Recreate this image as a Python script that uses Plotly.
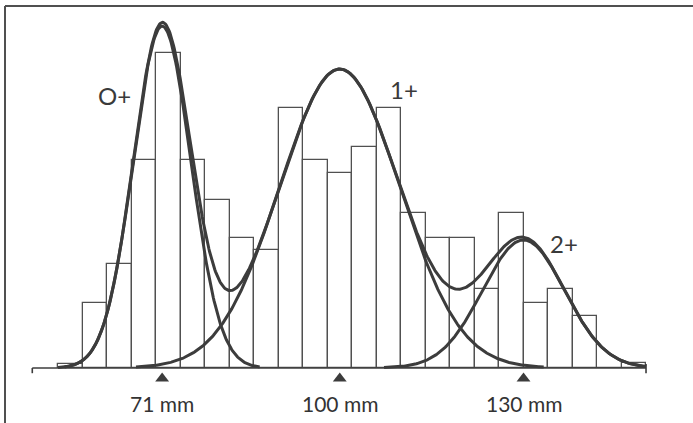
import numpy as np
import plotly.graph_objects as go

# ---- data ----
bin_left_edges = [54, 58, 62, 66, 70, 74, 78, 82, 86, 90, 94, 98,
                  102, 106, 110, 114, 118, 122, 126, 130, 134, 138, 142, 146]
bin_width = 4
counts = [0.3, 5, 8, 16, 24.2, 16, 12.9, 10, 9.1, 20, 16, 15,
          17, 20, 11.9, 10, 10, 6.1, 11.9, 5, 6.1, 4, 0, 0.4]

# fitted normal components: age class, mean length (mm), sd (mm), peak height
comp_labels = ["O+", "1+", "2+"]
comp_means = [71, 100, 130]
comp_sds = [4.7, 9.8, 6.7]
comp_peaks = [26.3, 23.0, 9.85]

# label positions (mm, count)
label_x = [63.2, 110.5, 136.6]
label_y = [21.0, 21.4, 9.6]

mode_ticks = [71, 100, 130]
mode_text = ["71 mm", "100 mm", "130 mm"]

# ---- styling ----
INK = "#3c3c3c"
FONT = "Lato"

x_lo, x_hi = 44.53, 157.67
y_lo, y_hi = -4.23, 28.31

fig = go.Figure()

centers = [e + bin_width / 2 for e in bin_left_edges]
fig.add_trace(go.Bar(
    x=centers, y=counts, width=bin_width,
    marker=dict(color="white", line=dict(color="#505050", width=1.3)),
    hoverinfo="skip",
))

xs_all = np.linspace(bin_left_edges[0], bin_left_edges[-1] + bin_width, 800)

def gauss(x, m, s, a):
    return a * np.exp(-0.5 * ((x - m) / s) ** 2)

total = np.zeros_like(xs_all)
for m, s, a in zip(comp_means, comp_sds, comp_peaks):
    total += gauss(xs_all, m, s, a)
    sel = (xs_all >= m - 3.4 * s) & (xs_all <= m + 3.4 * s)
    fig.add_trace(go.Scatter(
        x=xs_all[sel], y=gauss(xs_all[sel], m, s, a), mode="lines",
        line=dict(color=INK, width=3), hoverinfo="skip",
    ))

fig.add_trace(go.Scatter(
    x=xs_all, y=total, mode="lines",
    line=dict(color=INK, width=3), hoverinfo="skip",
))

# triangles marking the modes
fig.add_trace(go.Scatter(
    x=mode_ticks, y=[-0.8] * len(mode_ticks), mode="markers",
    marker=dict(symbol="triangle-up", size=12, color=INK), hoverinfo="skip",
))

annotations = []
for t, xv in zip(mode_text, mode_ticks):
    annotations.append(dict(x=xv, y=-2.7, xref="x", yref="y", text=t,
                            showarrow=False, font=dict(family=FONT, size=21, color="#333333")))
for t, xv, yv in zip(comp_labels, label_x, label_y):
    annotations.append(dict(x=xv, y=yv, xref="x", yref="y", text=t,
                            showarrow=False, font=dict(family=FONT, size=24, color="#3a3a3a")))

axis_start, axis_end = 49.8, 150.0
shapes = [
    dict(type="line", xref="x", yref="y", x0=axis_start, x1=axis_end, y0=0, y1=0,
         line=dict(color=INK, width=1.6)),
    dict(type="line", xref="x", yref="y", x0=axis_start, x1=axis_start, y0=0, y1=-0.4,
         line=dict(color=INK, width=1.6)),
    dict(type="line", xref="x", yref="y", x0=axis_end, x1=axis_end, y0=0.3, y1=-0.4,
         line=dict(color=INK, width=1.6)),
    # frame (top and left edges)
    dict(type="line", xref="paper", yref="paper", x0=5 / 693, x1=1, y0=1 - 6 / 423, y1=1 - 6 / 423,
         line=dict(color="#505050", width=2)),
    dict(type="line", xref="paper", yref="paper", x0=5 / 693, x1=5 / 693, y0=0, y1=1 - 6 / 423,
         line=dict(color="#505050", width=2)),
]

fig.update_layout(
    width=693, height=423,
    margin=dict(l=0, r=0, t=0, b=0),
    paper_bgcolor="white", plot_bgcolor="white",
    showlegend=False, bargap=0,
    xaxis=dict(range=[x_lo, x_hi], visible=False, fixedrange=True),
    yaxis=dict(range=[y_lo, y_hi], visible=False, fixedrange=True),
    annotations=annotations, shapes=shapes,
)

fig.write_html("out.html")
